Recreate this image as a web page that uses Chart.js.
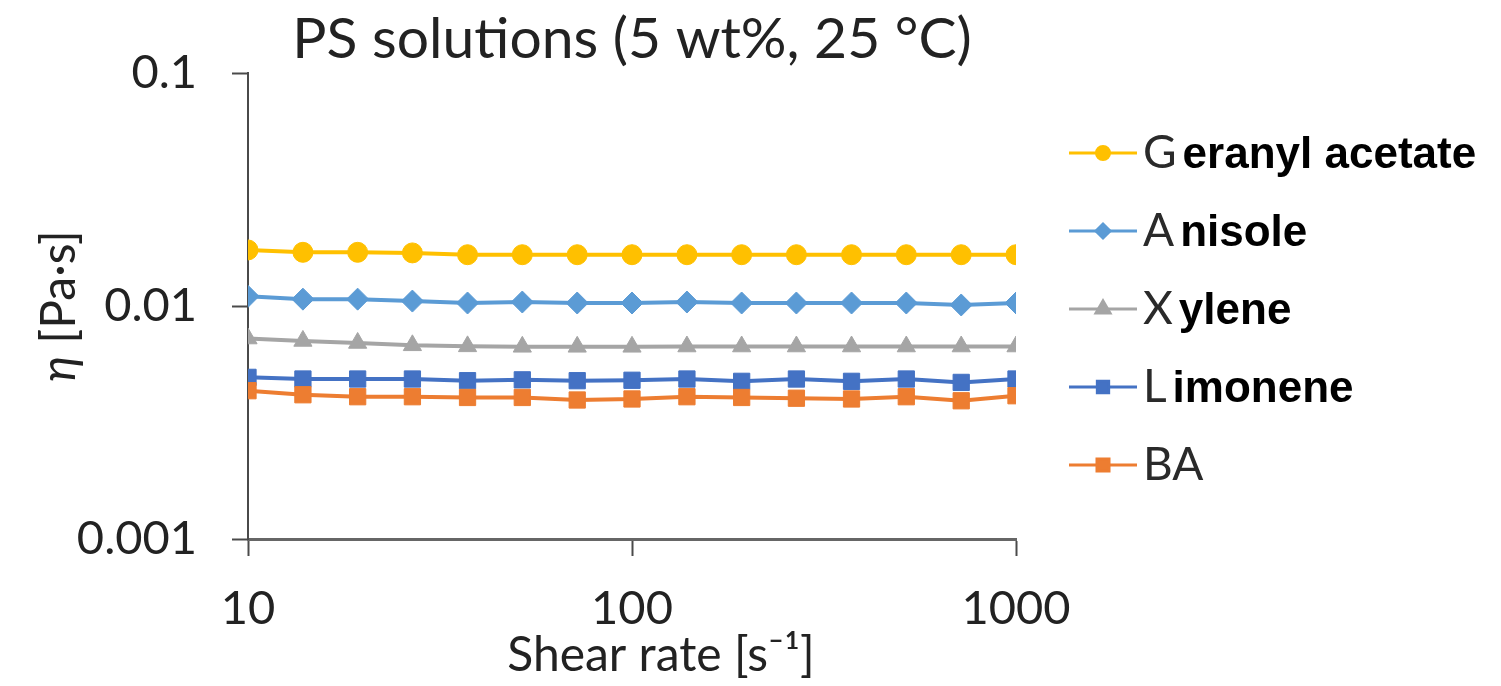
<!DOCTYPE html>
<html lang="en">
<head>
  <meta charset="UTF-8">
  <title>PS solutions viscosity</title>
  <script src="https://cdn.jsdelivr.net/npm/chart.js"></script>
  <style>
    body { margin: 0; background: #fff; }
    canvas { display: block; }
  </style>
</head>
<body>
  <canvas id="viscChart" width="1501" height="686"></canvas>

  <script>
    // shear rate points (s^-1) and viscosity per solvent (Pa·s)
    const shearRate = [10, 13.9, 19.3, 26.8, 37.3, 51.8, 72, 100, 139, 193, 268, 373, 518, 720, 1000];
    const geranylAcetate = [0.0174, 0.0170, 0.0170, 0.0169, 0.0166, 0.0166, 0.0166, 0.0166, 0.0166, 0.0166, 0.0166, 0.0166, 0.0166, 0.0166, 0.0166];
    const anisole = [0.0110, 0.0107, 0.0107, 0.0105, 0.0103, 0.0104, 0.0103, 0.0103, 0.0104, 0.0103, 0.0103, 0.0103, 0.0103, 0.0101, 0.0103];
    const xylene = [0.00725, 0.00708, 0.00694, 0.00678, 0.00671, 0.00668, 0.00668, 0.00668, 0.00670, 0.00670, 0.00670, 0.00670, 0.00670, 0.00670, 0.00670];
    const limonene = [0.00494, 0.00486, 0.00486, 0.00486, 0.00478, 0.00482, 0.00478, 0.00480, 0.00486, 0.00475, 0.00486, 0.00475, 0.00486, 0.00470, 0.00486];
    const benzylAcetate = [0.00433, 0.00416, 0.00408, 0.00408, 0.00405, 0.00405, 0.00395, 0.00399, 0.00408, 0.00405, 0.00402, 0.00399, 0.00408, 0.00392, 0.00412];

    const seriesNames = ['Geranyl acetate', 'Anisole', 'Xylene', 'Limonene', 'BA'];
    // how many leading characters of each legend label are set in the plain font
    const plainChars = [1, 1, 1, 1, 2];
    const xTicks = [10, 100, 1000];
    const yTicks = [0.001, 0.01, 0.1];

    const titleText = 'PS solutions (5 wt%, 25 °C)';
    const xTitle = 'Shear rate [s⁻¹]';

    const seriesData = [geranylAcetate, anisole, xylene, limonene, benzylAcetate];
    const colors = ['#FFC000', '#5B9BD5', '#A5A5A5', '#4472C4', '#ED7D31'];
    const markers = ['circle', 'rectRot', 'triangle', 'rect', 'rect'];
    const markerSize = [10, 11, 10.5, 11.5, 11.5];
    const legendMarkerSize = [6.5, 7, 8, 8, 8.5];

    const datasets = seriesNames.map((name, i) => ({
      label: name,
      data: shearRate.map((x, j) => ({ x: x, y: seriesData[i][j] })),
      borderColor: colors[i],
      backgroundColor: colors[i],
      pointBackgroundColor: colors[i],
      pointBorderColor: colors[i],
      pointStyle: markers[i],
      pointRadius: markerSize[i],
      pointBorderWidth: 1,
      borderWidth: 4,
      tension: 0,
      order: name === 'BA' ? -1 : i
    }));

    const axisColor = '#4a4a4a';

    // titles and the legend are drawn by hand so mixed fonts work
    const extras = {
      id: 'extras',
      afterDraw(chart) {
        const ctx = chart.ctx;
        const area = chart.chartArea;
        ctx.save();
        ctx.fillStyle = '#222';
        ctx.textBaseline = 'middle';

        // title
        ctx.font = '57px Lato';
        ctx.textAlign = 'center';
        ctx.fillText(titleText, (area.left + area.right) / 2, 40);

        // x title, a little right of the axis centre as in the original
        ctx.font = '48px Lato, "DejaVu Sans"';
        ctx.fillText(xTitle, 661, 656);

        // y title: italic eta then the unit
        ctx.translate(60, (area.top + area.bottom) / 2);
        ctx.rotate(-Math.PI / 2);
        const etaFont = 'italic 48px Lato, "DejaVu Sans"';
        const unitFont = '48px Lato, "DejaVu Sans"';
        ctx.font = etaFont;
        const wEta = ctx.measureText('η').width;
        ctx.font = unitFont;
        const wUnit = ctx.measureText(' [Pa·s]').width;
        const x0 = -(wEta + wUnit) / 2;
        ctx.textAlign = 'left';
        ctx.font = etaFont;
        ctx.fillText('η', x0, 0);
        ctx.font = unitFont;
        ctx.fillText(' [Pa·s]', x0 + wEta, 0);
        ctx.setTransform(1, 0, 0, 1, 0, 0);

        // legend
        chart.data.datasets.forEach((ds, i) => {
          const y = 153 + i * 78;
          ctx.strokeStyle = ds.borderColor;
          ctx.lineWidth = 3;
          ctx.beginPath();
          ctx.moveTo(1069, y);
          ctx.lineTo(1137, y);
          ctx.stroke();
          ctx.fillStyle = ds.borderColor;
          Chart.helpers.drawPoint(ctx, {
            pointStyle: ds.pointStyle, radius: legendMarkerSize[i], rotation: 0, borderWidth: 1
          }, 1103, y);

          const head = ds.label.slice(0, plainChars[i]);
          const tail = ds.label.slice(plainChars[i]);
          ctx.textAlign = 'left';
          ctx.textBaseline = 'middle';
          ctx.fillStyle = '#2a2a2a';
          ctx.font = '46px Lato';
          ctx.fillText(head, 1143, y);
          const hw = ctx.measureText(head).width;
          if (tail) {
            ctx.fillStyle = '#000';
            ctx.font = 'bold 44px "Liberation Sans"';
            ctx.fillText(tail, 1143 + hw + 6, y + 3);
          }
        });
        ctx.restore();
      }
    };

    new Chart(document.getElementById('viscChart'), {
      type: 'line',
      data: { datasets: datasets },
      options: {
        responsive: false,
        animation: false,
        layout: { padding: { left: 10, right: 485, top: 73, bottom: 0 } },
        plugins: {
          legend: { display: false },
          title: { display: false },
          tooltip: { enabled: false }
        },
        scales: {
          x: {
            type: 'logarithmic',
            min: 10,
            max: 1000,
            afterBuildTicks: scale => { scale.ticks = xTicks.map(v => ({ value: v })); },
            afterFit: scale => { scale.height = 147; },
            ticks: {
              callback: v => String(v),
              font: { family: 'Lato', size: 47 },
              color: '#222',
              padding: 25,
              maxRotation: 0,
              autoSkip: false
            },
            grid: { drawOnChartArea: false, tickLength: 17, color: axisColor, tickWidth: 2 },
            border: { color: '#666', width: 3 }
          },
          y: {
            type: 'logarithmic',
            min: 0.001,
            max: 0.1,
            afterBuildTicks: scale => { scale.ticks = yTicks.map(v => ({ value: v })); },
            afterFit: scale => { scale.width = 238; },
            ticks: {
              callback: v => String(v),
              font: { family: 'Lato', size: 47 },
              color: '#222',
              padding: 35,
              autoSkip: false
            },
            grid: { drawOnChartArea: false, tickLength: 16, color: axisColor, tickWidth: 2 },
            border: { color: axisColor, width: 2 }
          }
        }
      },
      plugins: [extras]
    });
  </script>
</body>
</html>
